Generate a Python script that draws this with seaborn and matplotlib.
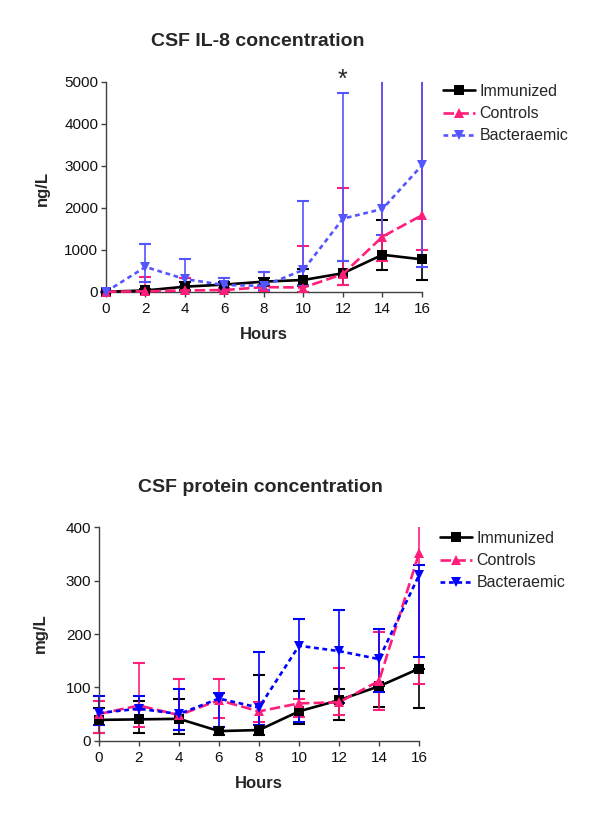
import numpy as np
import pandas as pd
import seaborn as sns
import matplotlib
matplotlib.use('Agg')
import matplotlib.pyplot as plt

sns.set_style('ticks')
plt.rcParams['font.family'] = ['Liberation Sans', 'DejaVu Sans']

# Datos
hours = [0, 2, 4, 6, 8, 10, 12, 14, 16]
groups = ['Immunized', 'Controls', 'Bacteraemic']

# CSF IL-8 (ng/L): media, limite inferior, limite superior
il8_imm = [0, 30, 120, 170, 240, 280, 440, 880, 770]
il8_imm_lo = [0, 0, 40, 100, 150, 130, 170, 520, 280]
il8_imm_hi = [0, 60, 230, 240, 330, 550, 720, 1700, 5500]

il8_ctl = [0, 10, 30, 40, 110, 100, 420, 1310, 1820]
il8_ctl_lo = [0, 0, 0, 0, 0, 0, 160, 730, 990]
il8_ctl_hi = [0, 350, 330, 100, 470, 1090, 2480, 5600, 5800]

il8_bac = [0, 590, 300, 160, 140, 520, 1740, 1970, 3010]
il8_bac_lo = [0, 230, 130, 30, 40, 150, 730, 1360, 580]
il8_bac_hi = [0, 1130, 770, 330, 470, 2160, 4730, 6500, 6500]

# CSF protein (mg/L)
pro_imm = [39, 40, 41, 18, 20, 55, 76, 102, 135]
pro_imm_lo = [14, 15, 13, 10, 10, 32, 39, 64, 61]
pro_imm_hi = [62, 74, 78, 25, 123, 93, 97, 102, 135]

pro_ctl = [50, 66, 48, 76, 55, 70, 72, 112, 351]
pro_ctl_lo = [14, 26, 20, 42, 36, 44, 49, 57, 106]
pro_ctl_hi = [75, 146, 115, 116, 72, 78, 136, 204, 480]

pro_bac = [52, 60, 50, 79, 62, 178, 168, 153, 310]
pro_bac_lo = [30, 40, 20, 26, 30, 36, 70, 92, 156]
pro_bac_hi = [84, 84, 97, 89, 167, 229, 245, 210, 329]

pink = '#ff1f7a'
styles = {
    'Immunized': dict(marker='s', ls='-', ms=6.5),
    'Controls': dict(marker='^', ls=(0, (4, 1.6)), ms=7),
    'Bacteraemic': dict(marker='v', ls=(0, (1.8, 1.4)), ms=7),
}


def draw_panel(ax, series, colors, ymax, ylow, yticks):
    for g in groups:
        mean, lo, hi = series[g]
        df = pd.DataFrame({'Hours': hours, 'val': mean})
        st = styles[g]
        sns.lineplot(data=df, x='Hours', y='val', ax=ax, color=colors[g],
                     marker=st['marker'], markersize=st['ms'], linestyle=st['ls'],
                     linewidth=1.9, markeredgewidth=0, label=g, zorder=3,
                     clip_on=False)
        err = [np.array(mean) - np.array(lo), np.array(hi) - np.array(mean)]
        ax.errorbar(hours, mean, yerr=err, fmt='none', ecolor=colors[g],
                    elinewidth=1.2, capsize=4, capthick=1.5, zorder=2)
    ax.set_xlim(-0.3, 16.3)
    ax.set_ylim(ylow, ymax)
    ax.set_xticks(range(0, 17, 2))
    ax.set_yticks(yticks)
    ax.spines['left'].set_position(('data', 0))
    ax.spines['bottom'].set_position(('data', 0))
    ax.spines['left'].set_bounds(0, ymax)
    ax.spines['bottom'].set_bounds(0, 16)
    sns.despine(ax=ax)
    for s in ['left', 'bottom']:
        ax.spines[s].set_color('#404040')
        ax.spines[s].set_linewidth(1.0)
    ax.tick_params(length=3.5, width=1, color='#404040', labelsize=11,
                   labelcolor='#111111', pad=2)
    ax.tick_params(axis='x', pad=4)
    ax.set_xlabel('Hours', fontsize=12, fontweight='bold', labelpad=8)
    ax.set_ylabel('')
    leg = ax.legend(loc='upper left', frameon=False, fontsize=11.5,
                    handlelength=2.0, handletextpad=0.3, labelspacing=0.45,
                    borderpad=0, borderaxespad=0)
    return leg


fig = plt.figure(figsize=(6, 8.21), dpi=100)

ax1 = fig.add_axes([0.1668, 0.637, 0.5463, 0.2635])
colors1 = {'Immunized': 'black', 'Controls': pink, 'Bacteraemic': '#5555ff'}
series1 = {'Immunized': (il8_imm, il8_imm_lo, il8_imm_hi),
           'Controls': (il8_ctl, il8_ctl_lo, il8_ctl_hi),
           'Bacteraemic': (il8_bac, il8_bac_lo, il8_bac_hi)}
leg1 = draw_panel(ax1, series1, colors1, 5000, -150, range(0, 5001, 1000))
leg1.set_bbox_to_anchor((443 / 600, 1 - 84 / 821), transform=fig.transFigure)
ax1.text(12, 4870, '*', ha='center', va='baseline', fontsize=18, clip_on=False)
fig.text(0.43, 1 - 42 / 821, 'CSF IL-8 concentration', ha='center', va='center',
         fontsize=14, fontweight='bold')
fig.text(42 / 600, 1 - 188 / 821, 'ng/L', ha='center', va='center', rotation=90,
         fontsize=12, fontweight='bold')

ax2 = fig.add_axes([0.155, 0.09, 0.5533, 0.2677])
colors2 = {'Immunized': 'black', 'Controls': pink, 'Bacteraemic': '#0000ff'}
series2 = {'Immunized': (pro_imm, pro_imm_lo, pro_imm_hi),
           'Controls': (pro_ctl, pro_ctl_lo, pro_ctl_hi),
           'Bacteraemic': (pro_bac, pro_bac_lo, pro_bac_hi)}
leg2 = draw_panel(ax2, series2, colors2, 400, -12, range(0, 401, 100))
leg2.set_bbox_to_anchor((440 / 600, 1 - 531 / 821), transform=fig.transFigure)
fig.text(260 / 600, 1 - 487 / 821, 'CSF protein concentration', ha='center',
         va='center', fontsize=14, fontweight='bold')
fig.text(40 / 600, 1 - 633 / 821, 'mg/L', ha='center', va='center', rotation=90,
         fontsize=12, fontweight='bold')

fig.savefig('out.png', dpi=100)
